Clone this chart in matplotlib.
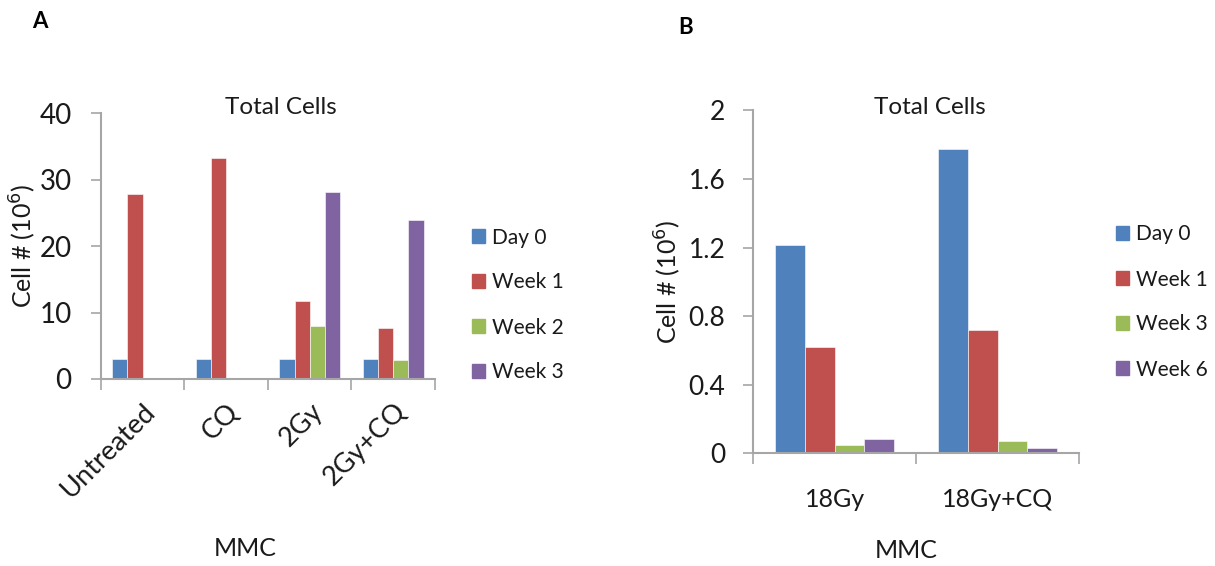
import numpy as np
import matplotlib
matplotlib.use("Agg")
import matplotlib.pyplot as plt
from matplotlib.patches import Patch

plt.rcParams['font.family'] = ['Lato', 'DejaVu Sans']

# panel A data
cats_a = ["Untreated", "CQ", "2Gy", "2Gy+CQ"]
series_a = ["Day 0", "Week 1", "Week 2", "Week 3"]
day0_a = [3.0, 3.0, 3.0, 3.0]
week1_a = [27.8, 33.2, 11.8, 7.7]
week2_a = [0, 0, 8.0, 2.9]
week3_a = [0, 0, 28.2, 23.9]

# panel B data
cats_b = ["18Gy", "18Gy+CQ"]
series_b = ["Day 0", "Week 1", "Week 3", "Week 6"]
day0_b = [1.215, 1.775]
week1_b = [0.62, 0.72]
week3_b = [0.048, 0.07]
week6_b = [0.083, 0.03]

colors = ["#4F81BD", "#C0504D", "#9BBB59", "#8064A2"]
axis_col = "#A6A6A6"
txt_col = "#1a1a1a"

fig = plt.figure(figsize=(12.15, 5.66), dpi=100)


def draw(ax, cats, data, ymax, yticks, ytick_fs, ypad):
    n = len(data)
    w = 1 / (n + 1.5)
    x = np.arange(len(cats))
    for i, vals in enumerate(data):
        ax.bar(x + (i - (n - 1) / 2) * w, vals, w, color=colors[i],
               edgecolor="white", linewidth=0.4)
    ax.set_xlim(-0.5, len(cats) - 0.5)
    ax.set_ylim(0, ymax)
    ax.set_yticks(yticks)
    ax.set_yticklabels([f"{t:g}" for t in yticks], fontsize=ytick_fs, color=txt_col)
    ax.set_xticks(x)
    ax.set_xticks(np.arange(len(cats) + 1) - 0.5, minor=True)
    ax.tick_params(axis="x", which="major", length=0, colors=txt_col)
    ax.tick_params(axis="x", which="minor", length=8, color=axis_col, width=1.2)
    ax.tick_params(axis="y", length=7, color=axis_col, width=1.2, pad=ypad)
    for s in ["top", "right"]:
        ax.spines[s].set_visible(False)
    for s in ["left", "bottom"]:
        ax.spines[s].set_color(axis_col)
        ax.spines[s].set_linewidth(1.5)


# Panel A
ax1 = fig.add_axes([0.0829, 0.3304, 0.2752, 0.4694])
draw(ax1, cats_a, [day0_a, week1_a, week2_a, week3_a], 40, [0, 10, 20, 30, 40], 20, 14)
ax1.set_xticklabels(cats_a, rotation=45, ha="right", rotation_mode="anchor", fontsize=19.5)
ax1.tick_params(axis="x", which="major", pad=14)
ax1.set_ylabel("Cell # (10$^{6}$)", fontsize=18, labelpad=1, color=txt_col)
fig.text(281 / 1215, 1 - 107 / 566, "Total Cells", ha="center", va="center", fontsize=17.5, color=txt_col)
fig.text(245 / 1215, 1 - 548 / 566, "MMC", ha="center", va="center", fontsize=18, color=txt_col)
fig.text(40 / 1215, 1 - 22 / 566, "A", ha="center", va="center", fontsize=16, fontweight="bold")
fig.legend([Patch(color=c) for c in colors], series_a, loc="center left",
           bbox_to_anchor=(453 / 1215, 1 - 305 / 566), frameon=False, fontsize=15,
           handlelength=0.62, handleheight=0.62, handletextpad=0.35, labelspacing=1.2,
           labelcolor=txt_col)

# Panel B
ax2 = fig.add_axes([0.6198, 0.199, 0.2683, 0.606])
draw(ax2, cats_b, [day0_b, week1_b, week3_b, week6_b], 2, [0, 0.4, 0.8, 1.2, 1.6, 2], 19, 13)
ax2.set_xticklabels(cats_b, fontsize=18)
ax2.tick_params(axis="x", which="major", pad=25)
ax2.set_ylabel("Cell # (10$^{6}$)", fontsize=18, labelpad=4, color=txt_col)
fig.text(930 / 1215, 1 - 108 / 566, "Total Cells", ha="center", va="center", fontsize=17.5, color=txt_col)
fig.text(906 / 1215, 1 - 550 / 566, "MMC", ha="center", va="center", fontsize=18, color=txt_col)
fig.text(686 / 1215, 1 - 28 / 566, "B", ha="center", va="center", fontsize=16, fontweight="bold")
fig.legend([Patch(color=c) for c in colors], series_b, loc="center left",
           bbox_to_anchor=(1097 / 1215, 1 - 302 / 566), frameon=False, fontsize=15,
           handlelength=0.62, handleheight=0.62, handletextpad=0.35, labelspacing=1.2,
           labelcolor=txt_col)

fig.savefig("out.png", dpi=100)
